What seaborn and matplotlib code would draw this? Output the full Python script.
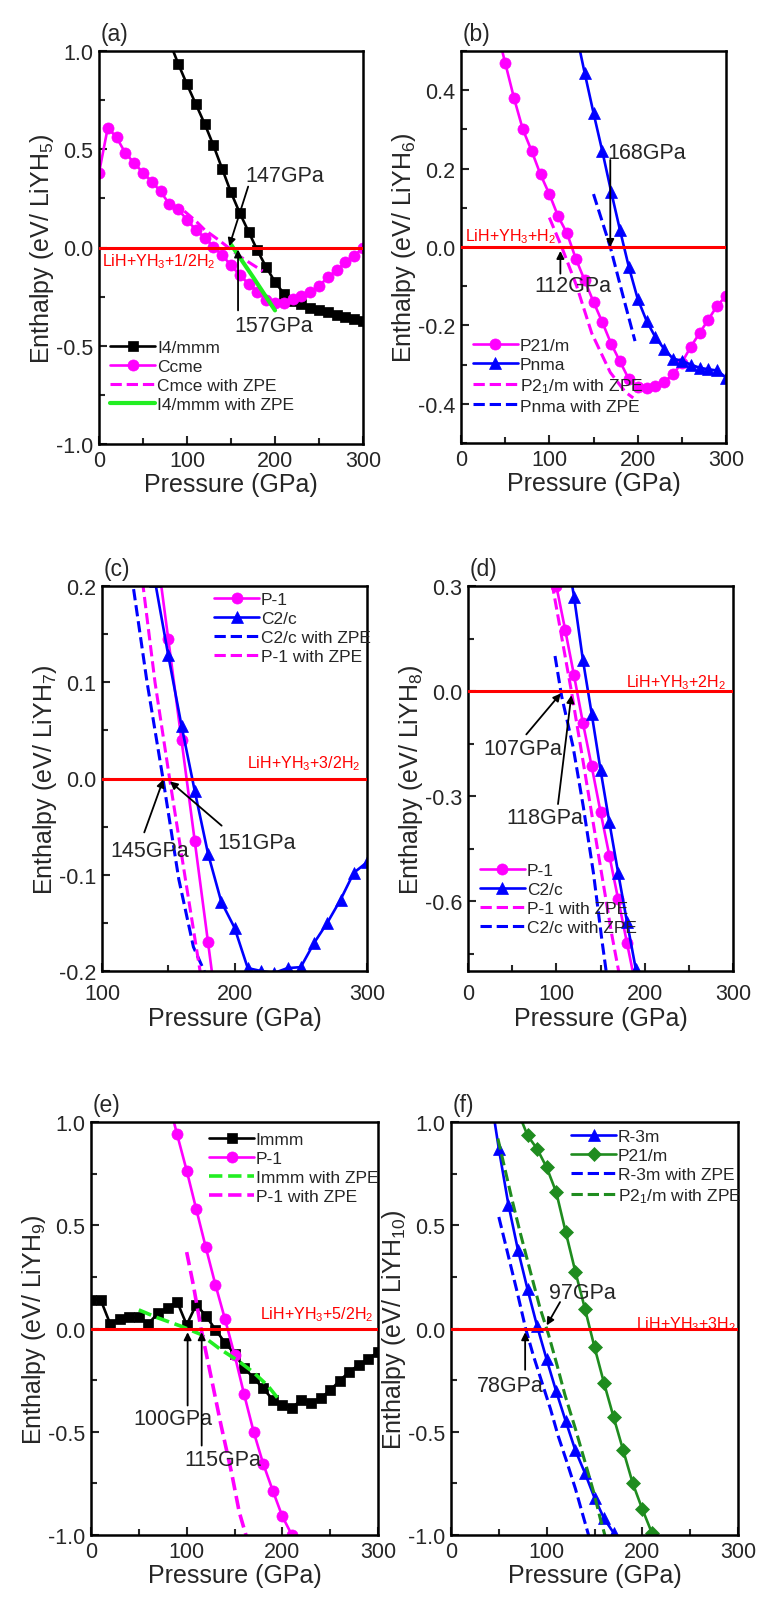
import numpy as np
import pandas as pd
import matplotlib
matplotlib.use("Agg")
import matplotlib.pyplot as plt
from matplotlib.ticker import MultipleLocator
import seaborn as sns

# ---------------- data ----------------
# (a) LiYH5
a_p_i4 = [80, 90, 100, 110, 120, 130, 140, 150, 160, 170, 180, 190, 200, 210, 220, 230, 240, 250, 260, 270, 280, 290, 300]
a_h_i4 = [1.05, 0.935, 0.83, 0.73, 0.63, 0.52, 0.40, 0.28, 0.175, 0.08, -0.015, -0.10, -0.175, -0.235, -0.27, -0.29,
          -0.31, -0.32, -0.33, -0.345, -0.355, -0.365, -0.375]
a_p_ccme = [0, 10, 20, 30, 40, 50, 60, 70, 80, 90, 100, 110, 120, 130, 140, 150, 160, 170, 180, 190, 200, 210, 220,
            230, 240, 250, 260, 270, 280, 290, 300]
a_h_ccme = [0.38, 0.61, 0.56, 0.48, 0.43, 0.38, 0.335, 0.285, 0.22, 0.195, 0.14, 0.09, 0.05, 0.005, -0.04, -0.09,
            -0.14, -0.185, -0.225, -0.265, -0.28, -0.28, -0.26, -0.245, -0.227, -0.197, -0.151, -0.117, -0.075,
            -0.041, -0.003]
a_p_ccme_zpe = [97, 110, 120, 137, 147, 160, 172, 186]
a_h_ccme_zpe = [0.185, 0.135, 0.09, 0.035, 0.0, -0.045, -0.08, -0.12]
a_p_i4_zpe = [150, 175, 200]
a_h_i4_zpe = [0.015, -0.15, -0.32]

# (b) LiYH6
b_p_p21 = [40, 50, 60, 70, 80, 90, 100, 110, 120, 130, 140, 150, 160, 170, 180, 190, 200, 210, 220, 230, 240, 250,
           260, 270, 280, 290, 300]
b_h_p21 = [0.56, 0.47, 0.38, 0.30, 0.245, 0.185, 0.135, 0.078, 0.035, -0.03, -0.085, -0.14, -0.192, -0.247, -0.292,
           -0.337, -0.357, -0.36, -0.355, -0.345, -0.325, -0.295, -0.255, -0.22, -0.185, -0.15, -0.125]
b_p_pnma = [130, 140, 150, 160, 170, 180, 190, 200, 210, 220, 230, 240, 250, 260, 270, 280, 290, 300]
b_h_pnma = [0.55, 0.444, 0.342, 0.244, 0.141, 0.043, -0.051, -0.132, -0.188, -0.23, -0.26, -0.285, -0.29, -0.30,
            -0.308, -0.312, -0.315, -0.333]
b_p_p21_zpe = [100, 114, 131, 148, 169, 186, 195]
b_h_p21_zpe = [0.075, 0.0, -0.10, -0.22, -0.32, -0.37, -0.385]
b_p_pnma_zpe = [150, 169, 184, 197]
b_h_pnma_zpe = [0.135, 0.0, -0.13, -0.24]

# (c) LiYH7
c_p_p1 = [140, 150, 160, 170, 180, 190]
c_h_p1 = [0.25, 0.145, 0.04, -0.065, -0.17, -0.275]
c_p_c2c = [140, 150, 160, 170, 180, 190, 200, 210, 220, 230, 240, 250, 260, 270, 280, 290, 300]
c_h_c2c = [0.205, 0.128, 0.055, -0.013, -0.078, -0.128, -0.155, -0.197, -0.2, -0.202, -0.197, -0.196, -0.171, -0.150,
           -0.126, -0.098, -0.087]
c_p_c2c_zpe = [120, 123.5, 134, 146, 158, 169, 182]
c_h_c2c_zpe = [0.23, 0.2, 0.10, 0.0, -0.105, -0.175, -0.215]
c_p_p1_zpe = [129, 131, 140, 151, 163, 174, 178]
c_h_p1_zpe = [0.222, 0.2, 0.10, 0.0, -0.105, -0.2, -0.235]

# (d) LiYH8
d_p_p1 = [100, 110, 120, 130, 140, 150, 160, 170, 180, 190]
d_h_p1 = [0.30, 0.175, 0.045, -0.09, -0.215, -0.345, -0.47, -0.595, -0.72, -0.845]
d_p_c2c = [110, 120, 130, 140, 150, 160, 170, 180, 190]
d_h_c2c = [0.42, 0.27, 0.09, -0.065, -0.225, -0.375, -0.52, -0.66, -0.795]
d_p_p1_zpe = [95, 117, 132.5, 147.5, 162.7, 175]
d_h_p1_zpe = [0.31, 0.0, -0.235, -0.465, -0.695, -0.86]
d_p_c2c_zpe = [98.5, 106, 119, 130.5, 142, 151.5, 158]
d_h_c2c_zpe = [0.10, -0.015, -0.16, -0.33, -0.52, -0.71, -0.83]

# (e) LiYH9
e_p_immm = [0, 10, 20, 30, 40, 50, 60, 70, 80, 90, 100, 110, 120, 130, 140, 150, 160, 170, 180, 190, 200, 210, 220,
            230, 240, 250, 260, 270, 280, 290, 300]
e_h_immm = [0.14, 0.14, 0.023, 0.047, 0.055, 0.055, 0.023, 0.075, 0.10, 0.13, 0.018, 0.115, 0.062, -0.005, -0.068,
            -0.122, -0.19, -0.24, -0.29, -0.345, -0.372, -0.385, -0.345, -0.36, -0.337, -0.30, -0.252, -0.21, -0.176,
            -0.147, -0.115]
e_p_p1 = [80, 90, 100, 110, 120, 130, 140, 150, 160, 170, 180, 190, 200, 210]
e_h_p1 = [1.12, 0.94, 0.765, 0.578, 0.393, 0.213, 0.046, -0.126, -0.318, -0.5, -0.655, -0.785, -0.91, -1.0]
e_p_immm_zpe = [50, 69, 93, 114, 135, 154, 170, 185, 196]
e_h_immm_zpe = [0.09, 0.053, 0.013, -0.027, -0.10, -0.157, -0.213, -0.278, -0.342]
e_p_p1_zpe = [100, 107, 115, 126, 136, 147, 155, 167]
e_h_p1_zpe = [0.37, 0.21, 0.0, -0.245, -0.47, -0.70, -0.89, -1.08]

# (f) LiYH10
f_p_r3m = [40, 50, 60, 70, 80, 90, 100, 110, 120, 130, 140, 150, 160, 170, 180]
f_h_r3m = [1.17, 0.87, 0.60, 0.38, 0.19, 0.012, -0.15, -0.305, -0.45, -0.59, -0.70, -0.82, -0.92, -0.99, -1.07]
f_p_p21 = [70, 80, 90, 100, 110, 120, 130, 140, 150, 160, 170, 180, 190, 200, 210]
f_h_p21 = [1.05, 0.935, 0.87, 0.78, 0.66, 0.465, 0.275, 0.096, -0.09, -0.265, -0.43, -0.59, -0.75, -0.875, -0.99]
f_p_r3m_zpe = [50, 60, 69, 78, 86, 95, 104, 112, 121, 130, 137, 145]
f_h_r3m_zpe = [0.54, 0.35, 0.18, 0.0, -0.13, -0.26, -0.39, -0.52, -0.645, -0.775, -0.89, -1.02]
f_p_p21_zpe = [49, 64, 72, 83, 93, 102, 111, 119, 130, 140, 149, 156, 162]
f_h_p21_zpe = [0.92, 0.62, 0.47, 0.275, 0.10, -0.03, -0.18, -0.32, -0.485, -0.645, -0.79, -0.92, -1.02]

MAG = "#ff00ff"
BLUE = "#0000ff"
BLACK = "#000000"
LIME = "#22ee22"
GREEN = "#1f8c1f"
RED = "#ff0000"

sns.set_style("ticks")
plt.rcParams["font.family"] = ["Liberation Sans", "DejaVu Sans"]
plt.rcParams["mathtext.fontset"] = "custom"
plt.rcParams["mathtext.rm"] = "Liberation Sans"
plt.rcParams["mathtext.it"] = "Liberation Sans:italic"
plt.rcParams["axes.unicode_minus"] = False

W, H = 757, 1606
fig = plt.figure(figsize=(W / 100, H / 100), dpi=100)


def make_ax(x0, y0, x1, y1):
    # pixel box -> figure fraction
    return fig.add_axes([x0 / W, 1 - y1 / H, (x1 - x0) / W, (y1 - y0) / H])


def curve(ax, x, y, color, marker=None, ls="-", lw=1.9, ms=7.5, label=None):
    df = pd.DataFrame({"p": x, "h": y})
    sns.lineplot(data=df, x="p", y="h", ax=ax, color=color, marker=marker, linestyle=ls, linewidth=lw,
                 markersize=ms, markeredgecolor=color, markeredgewidth=0.5, label=label,
                 sort=False, estimator=None, legend=False)
    ax.lines[-1].set_label(label)


def style(ax, xlim, ylim, xmaj, xmin, ymaj, ymin, ylabel, tag, xpad=4):
    ax.set_xlim(*xlim)
    ax.set_ylim(*ylim)
    ax.xaxis.set_major_locator(MultipleLocator(xmaj))
    ax.xaxis.set_minor_locator(MultipleLocator(xmin))
    ax.yaxis.set_major_locator(MultipleLocator(ymaj))
    ax.yaxis.set_minor_locator(MultipleLocator(ymin))
    ax.yaxis.set_major_formatter(matplotlib.ticker.FormatStrFormatter("%.1f"))
    ax.tick_params(which="both", direction="in", width=1.5, labelsize=15.5, top=False, right=False)
    ax.tick_params(which="major", length=6, pad=4)
    ax.tick_params(axis="x", which="major", pad=xpad)
    ax.tick_params(which="minor", length=4)
    for s in ax.spines.values():
        s.set_linewidth(1.8)
        s.set_color("black")
    ax.set_xlabel("Pressure (GPa)", fontsize=18, labelpad=1)
    ax.set_ylabel(ylabel, fontsize=18, labelpad=0)
    ax.text(0.005, 1.015, tag, transform=ax.transAxes, fontsize=16.5, ha="left", va="bottom")


def ref_line(ax, text, x, y, ha):
    ax.axhline(0.0, color=RED, lw=2.2, zorder=4)
    ax.text(x, y, text, color=RED, fontsize=11.5, ha=ha, va="center", zorder=5)


def arrow(ax, text, xy, xytext, tpos):
    ax.annotate("", xy=xy, xytext=xytext,
                arrowprops=dict(arrowstyle="-|>", color="black", lw=1.3, mutation_scale=11, shrinkA=0, shrinkB=0),
                zorder=6)
    ax.text(tpos[0], tpos[1], text, fontsize=15.5, ha="center", va="center", zorder=6)


def legend(ax, anchor):
    ax.legend(loc="upper left", bbox_to_anchor=anchor, frameon=False, fontsize=12.5, handlelength=2.6,
              handletextpad=0.1, labelspacing=0.22, borderpad=0, borderaxespad=0)


# ---------------- (a) ----------------
ax = make_ax(99, 52, 363, 445)
curve(ax, a_p_i4, a_h_i4, BLACK, marker="s", ms=6.5, label="I4/mmm")
curve(ax, a_p_ccme, a_h_ccme, MAG, marker="o", ms=8, label="Ccme")
curve(ax, a_p_ccme_zpe, a_h_ccme_zpe, MAG, ls="--", lw=2.2, label="Cmce with ZPE")
curve(ax, a_p_i4_zpe, a_h_i4_zpe, LIME, lw=3, label="I4/mmm with ZPE")
ref_line(ax, "LiH+YH$_3$+1/2H$_2$", 3, -0.066, "left")
arrow(ax, "147GPa", (148, 0.007), (169.5, 0.31), (211, 0.365))
arrow(ax, "157GPa", (158, -0.01), (158, -0.32), (198, -0.397))
style(ax, (0, 300), (-1, 1), 100, 50, 0.5, 0.25, "Enthalpy (eV/ LiYH$_5$)", "(a)")
legend(ax, (0.042, 0.265))

# ---------------- (b) ----------------
ax = make_ax(461, 52, 726, 444)
curve(ax, b_p_p21, b_h_p21, MAG, marker="o", ms=8, label="P21/m")
curve(ax, b_p_pnma, b_h_pnma, BLUE, marker="^", ms=8, label="Pnma")
curve(ax, b_p_p21_zpe, b_h_p21_zpe, MAG, ls="--", lw=2.2, label="P2$_1$/m with ZPE")
curve(ax, b_p_pnma_zpe, b_h_pnma_zpe, BLUE, ls="--", lw=2.2, label="Pnma with ZPE")
ref_line(ax, "LiH+YH$_3$+H$_2$", 4, 0.03, "left")
arrow(ax, "168GPa", (169, 0.0), (169, 0.222), (209.8, 0.242))
arrow(ax, "112GPa", (112.5, -0.01), (112.5, -0.068), (126.8, -0.098))
style(ax, (0, 300), (-0.5, 0.5), 100, 50, 0.2, 0.1, "Enthalpy (eV/ LiYH$_6$)", "(b)")
legend(ax, (0.045, 0.268))

# ---------------- (c) ----------------
ax = make_ax(102, 587, 367, 972)
curve(ax, c_p_p1, c_h_p1, MAG, marker="o", ms=8, label="P-1")
curve(ax, c_p_c2c, c_h_c2c, BLUE, marker="^", ms=8, label="C2/c")
curve(ax, c_p_c2c_zpe, c_h_c2c_zpe, BLUE, ls="--", lw=2.2, label="C2/c with ZPE")
curve(ax, c_p_p1_zpe, c_h_p1_zpe, MAG, ls="--", lw=2.2, label="P-1 with ZPE")
ref_line(ax, "LiH+YH$_3$+3/2H$_2$", 295, 0.0165, "right")
arrow(ax, "145GPa", (146.3, -0.001), (131.9, -0.056), (136.2, -0.075))
arrow(ax, "151GPa", (151.3, -0.003), (190.3, -0.049), (216.7, -0.067))
style(ax, (100, 300), (-0.2, 0.2), 100, 50, 0.1, 0.05, "Enthalpy (eV/ LiYH$_7$)", "(c)", xpad=9)
legend(ax, (0.423, 0.984))

# ---------------- (d) ----------------
ax = make_ax(468, 587, 733, 972)
curve(ax, d_p_p1, d_h_p1, MAG, marker="o", ms=8, label="P-1")
curve(ax, d_p_c2c, d_h_c2c, BLUE, marker="^", ms=8, label="C2/c")
curve(ax, d_p_p1_zpe, d_h_p1_zpe, MAG, ls="--", lw=2.2, label="P-1 with ZPE")
curve(ax, d_p_c2c_zpe, d_h_c2c_zpe, BLUE, ls="--", lw=2.2, label="C2/c with ZPE")
ref_line(ax, "LiH+YH$_3$+2H$_2$", 292.5, 0.027, "right")
arrow(ax, "107GPa", (105, -0.007), (66, -0.124), (62.3, -0.165))
arrow(ax, "118GPa", (117, -0.012), (101.9, -0.323), (86.8, -0.361))
style(ax, (0, 300), (-0.8, 0.3), 100, 50, 0.3, 0.15, "Enthalpy (eV/ LiYH$_8$)", "(d)", xpad=9)
legend(ax, (0.045, 0.281))

# ---------------- (e) ----------------
ax = make_ax(91, 1123, 378, 1536)
curve(ax, e_p_immm, e_h_immm, BLACK, marker="s", ms=6.5, label="Immm")
curve(ax, e_p_p1, e_h_p1, MAG, marker="o", ms=8, label="P-1")
curve(ax, e_p_immm_zpe, e_h_immm_zpe, LIME, ls="--", lw=2.6, label="Immm with ZPE")
curve(ax, e_p_p1_zpe, e_h_p1_zpe, MAG, ls="--", lw=2.6, label="P-1 with ZPE")
ref_line(ax, "LiH+YH$_3$+5/2H$_2$", 295, 0.071, "right")
arrow(ax, "100GPa", (101, -0.018), (101, -0.373), (86.1, -0.438))
arrow(ax, "115GPa", (115.7, -0.018), (115.7, -0.567), (138.3, -0.632))
style(ax, (0, 300), (-1, 1), 100, 50, 0.5, 0.25, "Enthalpy (eV/ LiYH$_9$)", "(e)")
legend(ax, (0.411, 0.976))

# ---------------- (f) ----------------
ax = make_ax(451, 1123, 738, 1536)
curve(ax, f_p_r3m, f_h_r3m, BLUE, marker="^", ms=8, label="R-3m")
curve(ax, f_p_p21, f_h_p21, GREEN, marker="D", ms=7, label="P21/m")
curve(ax, f_p_r3m_zpe, f_h_r3m_zpe, BLUE, ls="--", lw=2.2, label="R-3m with ZPE")
curve(ax, f_p_p21_zpe, f_h_p21_zpe, GREEN, ls="--", lw=2.2, label="P2$_1$/m with ZPE")
ref_line(ax, "LiH+YH$_3$+3H$_2$", 298, 0.023, "right")
arrow(ax, "97GPa", (100, 0.015), (114, 0.128), (137.1, 0.173))
arrow(ax, "78GPa", (77.5, -0.018), (77.5, -0.2), (62.2, -0.276))
style(ax, (0, 300), (-1, 1), 100, 50, 0.5, 0.25, "Enthalpy (eV/ LiYH$_{10}$)", "(f)")
legend(ax, (0.418, 0.983))

fig.savefig("out.png", dpi=100)
